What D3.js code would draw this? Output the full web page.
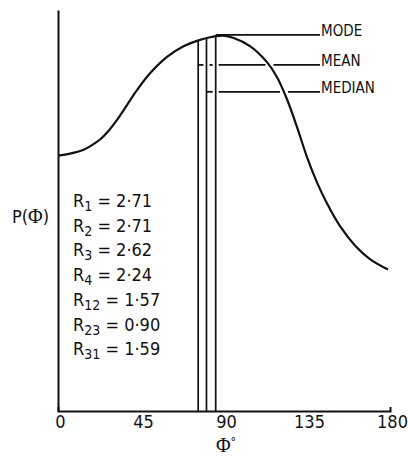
<!DOCTYPE html>
<html>
<head>
<meta charset="utf-8">
<script src="https://cdn.jsdelivr.net/npm/d3@7"></script>
<style>
  body { margin: 0; background: #fff; }
  text { font-family: "DejaVu Sans Condensed", "DejaVu Sans", sans-serif; font-stretch: condensed; fill: #111; }
</style>
</head>
<body>
<svg id="chart" width="408" height="457"></svg>
<script>
// ---------- data ---------- //
var xTicks = [0, 45, 90, 135, 180];

// P(phi) (arbitrary units, axis top = 1)
var curveDeg = [0, 6.5, 13.6, 18.4, 22.8, 27.1, 32.0, 37.4, 42.8, 49.9, 59.1, 67.8, 75.4, 82.4, 85.7,
                89.5, 94.9, 104.1, 113.3, 118.7, 124.1, 129.6, 135.0, 140.4, 145.8, 152.9, 161.0, 169.1, 178.9];
var curveP   = [0.637, 0.642, 0.651, 0.663, 0.677, 0.697, 0.726, 0.763, 0.800, 0.842, 0.883, 0.909, 0.923, 0.932, 0.935,
                0.936, 0.931, 0.910, 0.870, 0.833, 0.778, 0.708, 0.633, 0.570, 0.518, 0.461, 0.413, 0.379, 0.353];

// mode / mean / median
var statNames = ["MODE", "MEAN", "MEDIAN"];
var statDeg   = [85.5, 76, 80.5];
var statLevel = [0.938, 0.863, 0.796];

// R values listed on the left
var rSubs   = ["1", "2", "3", "4", "12", "23", "31"];
var rValues = ["2·71", "2·71", "2·62", "2·24", "1·57", "0·90", "1·59"];

// ---------- canvas ---------- //
var svg = d3.select("#chart");

var x = d3.scaleLinear().domain([0, 180]).range([58, 390]);
var y = d3.scaleLinear().domain([0, 1]).range([411, 10]);

// --- axes --- //
svg.append("g")
    .attr("transform", "translate(0,411)")
    .call(d3.axisBottom(x).tickValues(xTicks).tickSize(0).tickSizeOuter(-4).tickPadding(4))
    .call(function(g){
        g.select(".domain").attr("stroke", "#111").attr("stroke-width", 2);
        g.selectAll("text").attr("font-size", "18px").attr("fill", "#111")
            .attr("font-family", null).attr("dx", "2");
    });

svg.append("g")
    .attr("transform", "translate(58,0)")
    .call(d3.axisLeft(y).tickValues([]).tickSizeOuter(0))
    .call(function(g){
        g.select(".domain").attr("stroke", "#111").attr("stroke-width", 2);
    });

// --- curve --- //
var line = d3.line()
    .x(function(d, i){ return x(curveDeg[i]); })
    .y(function(d){ return y(d); })
    .curve(d3.curveCatmullRom.alpha(0.5));

var curvePath = svg.append("path")
    .datum(curveP)
    .attr("d", line)
    .attr("fill", "none")
    .attr("stroke", "#111")
    .attr("stroke-width", 2.2);

// sample the drawn curve so the other lines can meet it
var node = curvePath.node();
var len = node.getTotalLength();
var pts = d3.range(0, len, 0.5).map(function(l){ return node.getPointAtLength(l); });

function curveYAt(px){
    for (var i = 0; i < pts.length; i++) if (pts[i].x >= px) return pts[i].y;
    return pts[pts.length - 1].y;
}
function curveXRight(py){
    var peakX = x(statDeg[0]);
    for (var i = 0; i < pts.length; i++) if (pts[i].x > peakX && pts[i].y >= py) return pts[i].x;
    return null;
}

// --- vertical lines at mode, mean, median --- //
statDeg.forEach(function(d){
    svg.append("line")
        .attr("x1", x(d)).attr("x2", x(d))
        .attr("y1", y(0)).attr("y2", curveYAt(x(d)))
        .attr("stroke", "#111").attr("stroke-width", 1.7);
});

// --- leader lines with breaks where they cross other lines --- //
var xEnd = 320;
statNames.forEach(function(name, k){
    var x0 = x(statDeg[k]);
    var ly = y(statLevel[k]);
    var gaps = [];
    if (k > 0) {
        statDeg.forEach(function(d){
            if (x(d) > x0 + 1) gaps.push([x(d) - 3, x(d) + 3]);
        });
        var cx = curveXRight(ly);
        if (cx) gaps.push([cx - 4, cx + 4]);
    }
    gaps.sort(function(a, b){ return a[0] - b[0]; });
    var start = x0;
    var segs = [];
    gaps.forEach(function(g){ segs.push([start, g[0]]); start = g[1]; });
    segs.push([start, xEnd]);
    segs.forEach(function(s){
        svg.append("line")
            .attr("x1", s[0]).attr("x2", s[1])
            .attr("y1", ly).attr("y2", ly)
            .attr("stroke", "#111").attr("stroke-width", 1.8);
    });
    svg.append("text")
        .attr("x", xEnd + 1)
        .attr("y", ly + 1.5)
        .attr("font-size", "15px")
        .text(name);
});

// --- axis titles --- //
var yTitle = svg.append("text").attr("x", 12).attr("y", 223).attr("font-size", "18px");
yTitle.append("tspan").text("P(");
yTitle.append("tspan").attr("font-family", "Liberation Serif").attr("font-size", "20px").text("Φ");
yTitle.append("tspan").text(")");

var xTitle = svg.append("text").attr("x", 226).attr("y", 452)
    .attr("text-anchor", "middle").attr("font-size", "20px");
xTitle.append("tspan").attr("font-family", "Liberation Serif").text("Φ");
xTitle.append("tspan").attr("font-size", "12px").attr("dy", -6).text("°");

// --- R values --- //
rSubs.forEach(function(s, i){
    var t = svg.append("text")
        .attr("x", 73)
        .attr("y", 207 + i * 24.7)
        .attr("font-size", "18px");
    t.append("tspan").text("R");
    t.append("tspan").attr("font-size", "14px").attr("dy", 4).text(s);
    t.append("tspan").attr("dy", -4).text(" = " + rValues[i]);
});
</script>
</body>
</html>
